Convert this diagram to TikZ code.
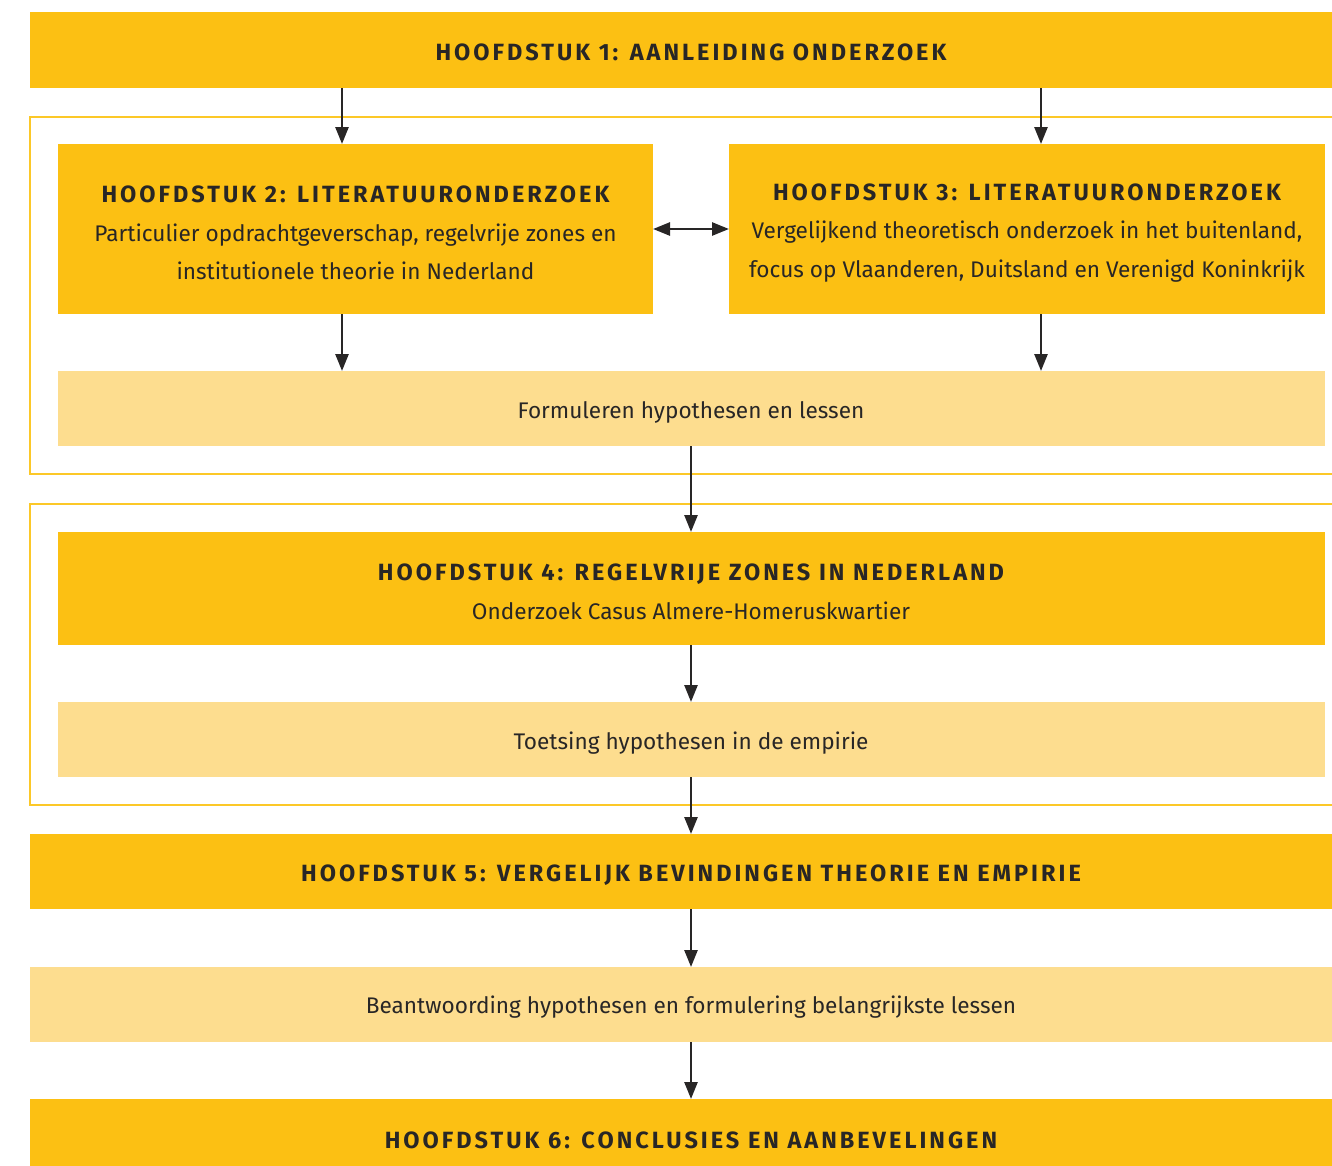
\documentclass[tikz,border=0pt]{standalone}
\usepackage{fontspec}
\setmainfont{Fira Sans}
\usetikzlibrary{arrows.meta}
\definecolor{gold}{RGB}{252,192,19}
\definecolor{pale}{RGB}{253,221,143}
\definecolor{framey}{RGB}{252,200,40}
\definecolor{ink}{RGB}{40,38,38}
\newcommand{\ttl}[1]{{\bfseries\addfontfeature{LetterSpace=12.8}\fontsize{23.5}{38}\selectfont #1}}
\tikzset{
  boxdark/.style={fill=gold, draw=none},
  boxpale/.style={fill=pale, draw=none},
  framebox/.style={draw=framey, line width=1.3pt},
  txt/.style={text=ink, align=center, font=\fontsize{22.6}{38.5}\selectfont, inner sep=0pt},
  arr/.style={draw=ink, line width=2.6pt, -{Triangle[length=17pt,width=13pt]}},
  darr/.style={draw=ink, line width=2.6pt, {Triangle[length=17pt,width=13pt]}-{Triangle[length=17pt,width=13pt]}}
}
\begin{document}
\begin{tikzpicture}[x=1pt,y=-1pt]
\useasboundingbox (0,0) rectangle (1332,1165);
\clip (0,0) rectangle (1332,1165);
% frames
\draw[framebox] (1360,117) -- (30,117) -- (30,474) -- (1360,474);
\draw[framebox] (1360,504) -- (30,504) -- (30,805) -- (1360,805);
% boxes
\path[boxdark] (30,12) rectangle (1353,88);
\path[boxdark] (58,144) rectangle (653,314);
\path[boxdark] (729,144) rectangle (1325,314);
\path[boxpale] (58,371) rectangle (1325,446);
\path[boxdark] (58,532) rectangle (1325,645);
\path[boxpale] (58,702) rectangle (1325,777);
\path[boxdark] (30,834) rectangle (1353,909);
\path[boxpale] (30,967) rectangle (1353,1042);
\path[boxdark] (30,1099) rectangle (1353,1180);
% text nodes
\node[txt] (h1) at (691,52) {\ttl{HOOFDSTUK 1: AANLEIDING ONDERZOEK}};
\node[txt] (h2) at (355.5,233) {\ttl{HOOFDSTUK 2: LITERATUURONDERZOEK}\\Particulier opdrachtgeverschap, regelvrije zones en\\institutionele theorie in Nederland};
\node[txt] (h3) at (1027,233) {\ttl{HOOFDSTUK 3: LITERATUURONDERZOEK}\\Vergelijkend theoretisch onderzoek in het buitenland,\\focus op Vlaanderen, Duitsland en Verenigd Koninkrijk};
\node[txt] (f1) at (691,412) {Formuleren hypothesen en lessen};
\node[txt] (h4) at (691,592) {\ttl{HOOFDSTUK 4: REGELVRIJE ZONES IN NEDERLAND}\\Onderzoek Casus Almere-Homeruskwartier};
\node[txt] (t1) at (691,743) {Toetsing hypothesen in de empirie};
\node[txt] (h5) at (691,875) {\ttl{HOOFDSTUK 5: VERGELIJK BEVINDINGEN THEORIE EN EMPIRIE}};
\node[txt] (b1) at (691,1007) {Beantwoording hypothesen en formulering belangrijkste lessen};
\node[txt] (h6) at (691,1140) {\ttl{HOOFDSTUK 6: CONCLUSIES EN AANBEVELINGEN}};
% anchor coordinates
\coordinate (h1b1) at (342,88); \coordinate (h2t) at (342,144);
\coordinate (h1b2) at (1041,88); \coordinate (h3t) at (1041,144);
\coordinate (h2b) at (342,314); \coordinate (f1t2) at (342,371);
\coordinate (h3b) at (1041,314); \coordinate (f1t3) at (1041,371);
\coordinate (h2r) at (653,229); \coordinate (h3l) at (729,229);
\coordinate (f1b) at (691,446); \coordinate (h4t) at (691,532);
\coordinate (h4b) at (691,645); \coordinate (t1t) at (691,702);
\coordinate (t1b) at (691,777); \coordinate (h5t) at (691,834);
\coordinate (h5b) at (691,909); \coordinate (b1t) at (691,967);
\coordinate (b1b) at (691,1042); \coordinate (h6t) at (691,1099);
% arrows
\draw[arr] (h1b1) -- (h2t);
\draw[arr] (h1b2) -- (h3t);
\draw[arr] (h2b) -- (f1t2);
\draw[arr] (h3b) -- (f1t3);
\draw[darr] (h2r) -- (h3l);
\draw[arr] (f1b) -- (h4t);
\draw[arr] (h4b) -- (t1t);
\draw[arr] (t1b) -- (h5t);
\draw[arr] (h5b) -- (b1t);
\draw[arr] (b1b) -- (h6t);
\end{tikzpicture}
\end{document}
